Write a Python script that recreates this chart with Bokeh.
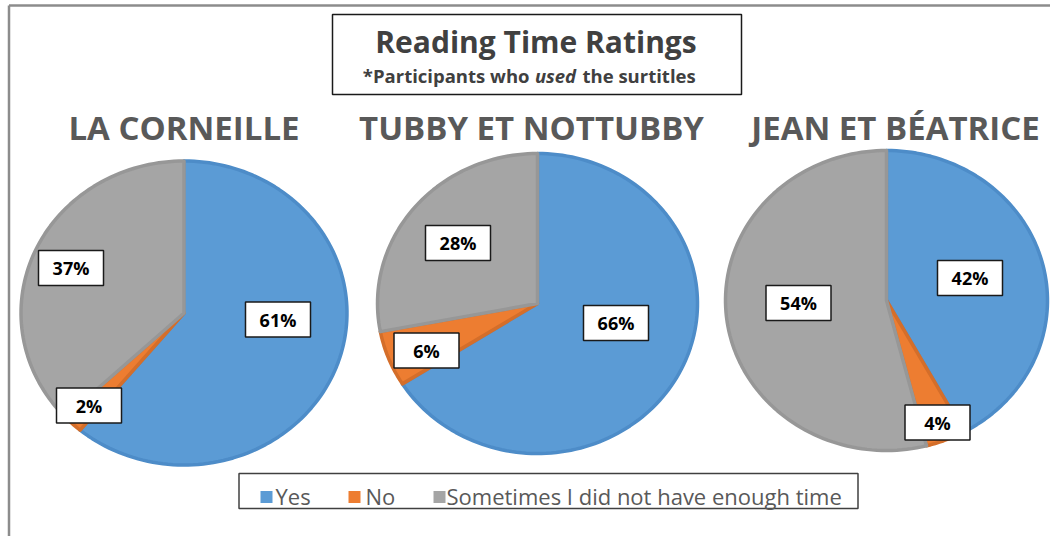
import numpy as np
from bokeh.plotting import figure
from bokeh.models import Range1d, ColumnDataSource
from bokeh.core.properties import value
from bokeh.embed import file_html
from bokeh.resources import INLINE

# ---------------- data ----------------
title = "Reading Time Ratings"
subtitle_parts = ["*Participants who", "used", "the surtitles"]
plays = ["LA CORNEILLE", "TUBBY ET NOTTUBBY", "JEAN ET BÉATRICE"]
categories = ["Yes", "No", "Sometimes I did not have enough time"]
yes_pct = [61, 66, 42]
no_pct = [2, 6, 4]
sometimes_pct = [37, 28, 54]

# ---------------- styles / layout ----------------
fills = ["#5B9BD5", "#ED7D31", "#A5A5A5"]
edges = ["#4D8CC8", "#D46E2A", "#979797"]
FONT = value("Open Sans")

W, H = 1050, 536
# pie geometry in canvas pixels: centre x, centre y, radius x, radius y
pie_geo = [(183.5, 312.5, 163, 152), (537, 303, 160, 150), (886, 300, 161, 150)]
# label box centres (per pie: Yes, No, Sometimes)
label_pos = [
    [(277.5, 319), (88.5, 405), (70.5, 267.5)],
    [(615.5, 322.5), (426, 350), (457.5, 242.5)],
    [(969.5, 277.5), (937, 422), (798, 302.5)],
]
play_title_x = [183.5, 531, 895]

p = figure(width=W, height=H, x_range=Range1d(0, W), y_range=Range1d(H, 0),
           output_backend="svg", toolbar_location=None, min_border=0)
p.axis.visible = False
p.grid.visible = False
p.outline_line_color = None
p.background_fill_color = "white"
p.border_fill_color = "white"

# outer frame (left and top)
p.segment(x0=[8.5, 8.5], y0=[5, 5], x1=[8.5, W], y1=[H, 5], line_color="#8C8C8C", line_width=2.5)

# ---------------- pies ----------------
xs, ys, fc, lc = [], [], [], []
series = [yes_pct, no_pct, sometimes_pct]
for i in range(len(plays)):
    cx, cy, rx, ry = pie_geo[i]
    vals = np.array([s[i] for s in series], dtype=float)
    fr = np.concatenate([[0], np.cumsum(vals) / vals.sum()])
    for k in range(3):
        t = np.linspace(fr[k], fr[k + 1], max(4, int(200 * (fr[k + 1] - fr[k])) + 2)) * 2 * np.pi
        px = np.concatenate([[cx], cx + rx * np.sin(t)])
        py = np.concatenate([[cy], cy - ry * np.cos(t)])
        xs.append(list(px)); ys.append(list(py))
        fc.append(fills[k]); lc.append(edges[k])

p.patches(xs="xs", ys="ys", fill_color="fc", line_color="lc", line_width=3.5,
          line_join="round", source=ColumnDataSource(dict(xs=xs, ys=ys, fc=fc, lc=lc)))

# ---------------- data labels ----------------
lx, ly, lt = [], [], []
for i in range(len(plays)):
    for k in range(3):
        lx.append(label_pos[i][k][0]); ly.append(label_pos[i][k][1])
        lt.append(f"{series[k][i]}%")
lsrc = ColumnDataSource(dict(x=lx, y=ly, t=lt))
p.rect(x="x", y="y", width=65, height=35, fill_color="white", line_color="#1A1A1A",
       line_width=1.5, source=lsrc)
p.text(x="x", y="y", text="t", text_font=FONT, text_font_style="bold", text_font_size="18px",
       text_align="center", text_baseline="middle", text_color="#000000", source=lsrc)

# ---------------- title box ----------------
p.rect(x=[536.5], y=[54], width=409, height=80, fill_color="white", line_color="#1A1A1A", line_width=1.5)
p.text(x=[535.5], y=[41], text=[title], text_font=FONT, text_font_style="bold",
       text_font_size="30px", text_align="center", text_baseline="middle", text_color="#404040")
p.text(x=[529], y=[74.5], text=[subtitle_parts[0]], text_font=FONT, text_font_style="bold",
       text_font_size="18.5px", text_align="right", text_baseline="middle", text_color="#404040")
p.text(x=[555], y=[74.5], text=[subtitle_parts[1]], text_font=FONT, text_font_style="bold italic",
       text_font_size="18.5px", text_align="center", text_baseline="middle", text_color="#404040")
p.text(x=[582], y=[74.5], text=[subtitle_parts[2]], text_font=FONT, text_font_style="bold",
       text_font_size="18.5px", text_align="left", text_baseline="middle", text_color="#404040")

# ---------------- play titles ----------------
p.text(x=play_title_x, y=[127] * 3, text=plays, text_font=FONT, text_font_style="bold",
       text_font_size="33px", text_align="center", text_baseline="middle", text_color="#595959")

# ---------------- legend ----------------
p.rect(x=[548], y=[490.5], width=619, height=35, fill_color="white", line_color="#404040", line_width=1.5)
sq_x = [266, 354, 439]
tx_x = [275, 365, 446]
p.rect(x=sq_x, y=[496.5] * 3, width=12, height=12, fill_color=fills, line_color=None)
p.text(x=tx_x, y=[495] * 3, text=categories, text_font=FONT, text_font_size="22px",
       text_align="left", text_baseline="middle", text_color="#595959")

open("out.html", "w").write(file_html(p, INLINE))
